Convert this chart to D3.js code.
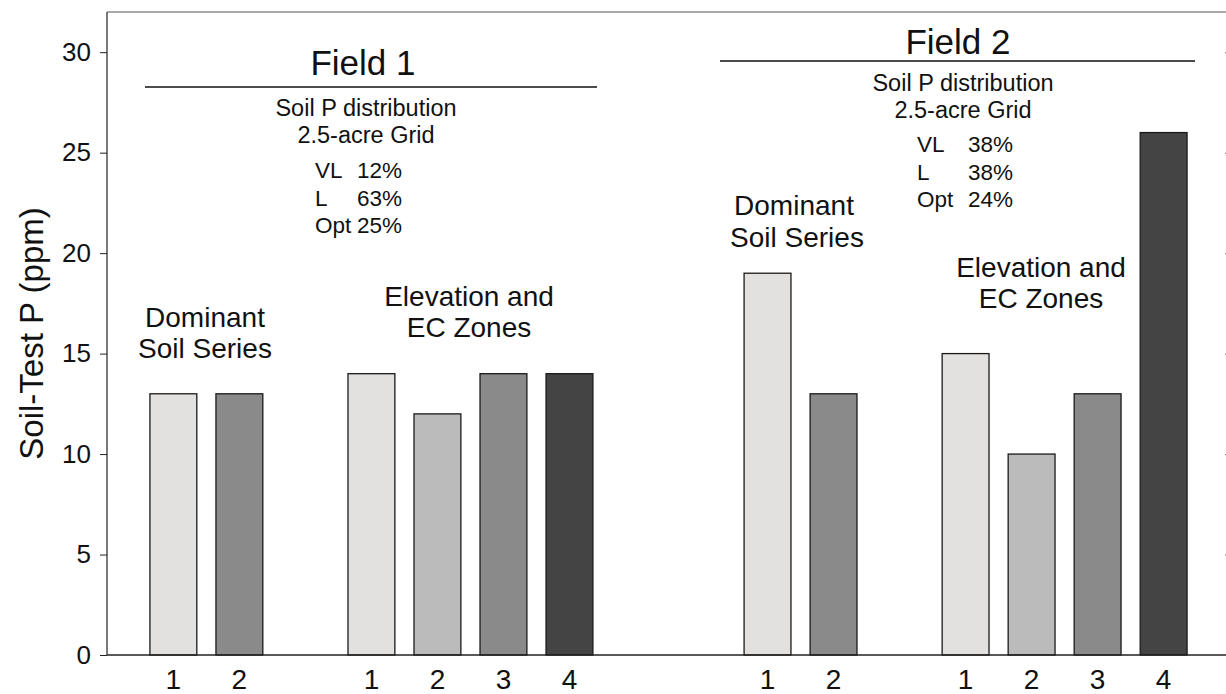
<!DOCTYPE html>
<html>
<head>
<meta charset="utf-8">
<script src="https://cdn.jsdelivr.net/npm/d3@7"></script>
<style>
  body { margin: 0; background: #fff; }
  svg { font-family: "Liberation Sans", Arial, sans-serif; }
</style>
</head>
<body>
<svg id="chart" width="1226" height="694"></svg>
<script>
// slots along the x axis, gaps are empty slots between groups
const slots = ["f1d1", "f1d2", "gapA", "f1z1", "f1z2", "f1z3", "f1z4", "gapB", "gapC",
  "f2d1", "f2d2", "gapD", "f2z1", "f2z2", "f2z3", "f2z4"];
// bar keys, tick labels and values
const barKeys = ["f1d1", "f1d2", "f1z1", "f1z2", "f1z3", "f1z4",
  "f2d1", "f2d2", "f2z1", "f2z2", "f2z3", "f2z4"];
const barLabels = ["1", "2", "1", "2", "3", "4", "1", "2", "1", "2", "3", "4"];
const barValues = [13, 13, 14, 12, 14, 14, 19, 13, 15, 10, 13, 26];
const barShade = ["a", "c", "a", "b", "c", "d", "a", "c", "a", "b", "c", "d"];
const yTicks = [0, 5, 10, 15, 20, 25, 30];

const shadeColor = d3.scaleOrdinal()
  .domain(["a", "b", "c", "d"])
  .range(["#e2e1df", "#bbbbbb", "#8a8a8a", "#444444"]);

const svg = d3.select("#chart");
const margin = { top: 12, right: 0, bottom: 39, left: 107 };
const width = 1226, height = 694;
const y0 = height - margin.bottom;

const x = d3.scaleBand()
  .domain(slots)
  .range([margin.left + 2, width + 2])
  .paddingInner(0.29)
  .paddingOuter(0.62);

const y = d3.scaleLinear()
  .domain([0, 32])
  .range([y0, margin.top]);

const bars = barKeys.map((k, i) => ({ key: k, label: barLabels[i], value: barValues[i], shade: barShade[i] }));

// bars
svg.append("g")
  .selectAll("rect")
  .data(bars)
  .join("rect")
  .attr("x", d => x(d.key))
  .attr("y", d => y(d.value))
  .attr("width", x.bandwidth())
  .attr("height", d => y0 - y(d.value))
  .attr("fill", d => shadeColor(d.shade))
  .attr("stroke", "#1a1a1a")
  .attr("stroke-width", 1.3);

// left axis
const yAxisG = svg.append("g")
  .attr("transform", `translate(${margin.left},0)`)
  .call(d3.axisLeft(y).tickValues(yTicks).tickSize(7).tickPadding(9))
  .call(g => g.select(".domain").remove());
yAxisG.selectAll("text").attr("font-size", 26).attr("fill", "#111")
  .attr("font-family", "Liberation Sans, Arial, sans-serif");
yAxisG.selectAll("line").attr("stroke", "#222");

// right ticks, inward
const yAxisR = svg.append("g")
  .attr("transform", `translate(${width - 1},0)`)
  .call(d3.axisLeft(y).tickValues(yTicks.slice(1)).tickSize(3).tickFormat(""))
  .call(g => g.select(".domain").remove());
yAxisR.selectAll("line").attr("stroke", "#666").attr("transform", "translate(3,0)");

// frame lines
svg.append("line").attr("x1", margin.left).attr("x2", margin.left)
  .attr("y1", margin.top).attr("y2", y0).attr("stroke", "#222").attr("stroke-width", 1.2);
svg.append("line").attr("x1", margin.left).attr("x2", width)
  .attr("y1", y0).attr("y2", y0).attr("stroke", "#222").attr("stroke-width", 1.5);
svg.append("line").attr("x1", margin.left).attr("x2", width)
  .attr("y1", margin.top).attr("y2", margin.top).attr("stroke", "#555").attr("stroke-width", 1);

// x tick labels
svg.append("g")
  .selectAll("text")
  .data(bars)
  .join("text")
  .attr("x", d => x(d.key) + x.bandwidth() / 2)
  .attr("y", y0 + 34)
  .attr("text-anchor", "middle")
  .attr("font-size", 28)
  .attr("fill", "#111")
  .text(d => d.label);

// y axis title
svg.append("text")
  .attr("transform", `translate(43,${(margin.top + y0) / 2}) rotate(-90)`)
  .attr("text-anchor", "middle")
  .attr("font-size", 33)
  .attr("fill", "#111")
  .text("Soil-Test P (ppm)");

// annotations
const addText = (txt, tx, ty, size, anchor = "middle") =>
  svg.append("text").attr("x", tx).attr("y", ty).attr("font-size", size)
    .attr("text-anchor", anchor).attr("fill", "#111").text(txt);

// field 1
addText("Field 1", 363, 75, 35);
svg.append("line").attr("x1", 145).attr("x2", 597).attr("y1", 87).attr("y2", 87)
  .attr("stroke", "#111").attr("stroke-width", 1.5);
addText("Soil P distribution", 366, 116, 23.5);
addText("2.5-acre Grid", 366, 143, 23.5);
addText("VL", 315, 178, 22.5, "start"); addText("12%", 357, 178, 22.5, "start");
addText("L", 315, 206, 22.5, "start"); addText("63%", 357, 206, 22.5, "start");
addText("Opt", 315, 233, 22.5, "start"); addText("25%", 357, 233, 22.5, "start");
addText("Dominant", 205, 327, 28);
addText("Soil Series", 205, 358, 28);
addText("Elevation and", 469, 306, 28);
addText("EC Zones", 469, 337, 28);

// field 2
addText("Field 2", 958, 54, 35);
svg.append("line").attr("x1", 720).attr("x2", 1195).attr("y1", 61).attr("y2", 61)
  .attr("stroke", "#111").attr("stroke-width", 1.5);
addText("Soil P distribution", 963, 91, 23.5);
addText("2.5-acre Grid", 963, 118, 23.5);
addText("VL", 917, 152, 22.5, "start"); addText("38%", 968, 152, 22.5, "start");
addText("L", 917, 180, 22.5, "start"); addText("38%", 968, 180, 22.5, "start");
addText("Opt", 917, 207, 22.5, "start"); addText("24%", 968, 207, 22.5, "start");
addText("Dominant", 794, 215, 28);
addText("Soil Series", 797, 247, 28);
addText("Elevation and", 1041, 277, 28);
addText("EC Zones", 1041, 308, 28);
</script>
</body>
</html>
